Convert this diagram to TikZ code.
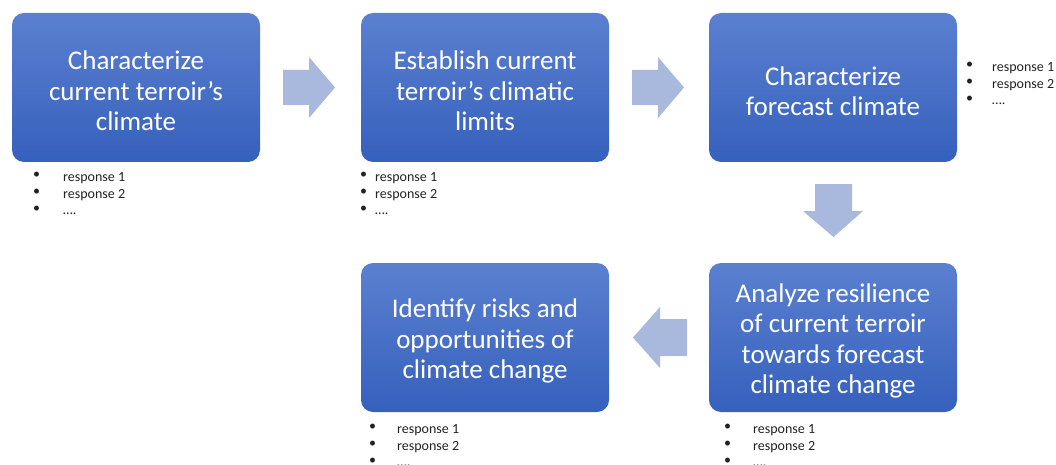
\documentclass[tikz,border=0pt]{standalone}
\usepackage{fontspec}
\setmainfont{Carlito}
\definecolor{boxtop}{HTML}{5B80D0}
\definecolor{boxbot}{HTML}{3560BC}
\definecolor{arrowc}{HTML}{A9B9DE}
\definecolor{listc}{HTML}{222222}
\tikzset{
  stepbox/.style={rounded corners=12pt, top color=boxtop, bottom color=boxbot, draw=none,
    minimum width=248pt, minimum height=149pt, inner sep=0pt},
  steptext/.style={inner sep=0pt, text=white, align=center, font=\fontsize{27}{30.5}\selectfont},
  blockarrow/.style={fill=arrowc, draw=none},
  resp/.style={anchor=north west, inner sep=0pt, text=listc, font=\fontsize{14}{16.8}\selectfont, align=left},
  bul/.style={anchor=north west, inner sep=0pt, text=listc, font=\fontsize{14}{16.8}\selectfont, align=left}
}
\begin{document}
\begin{tikzpicture}[x=1pt,y=-1pt]
\useasboundingbox (0,0) rectangle (1056,465);
\node[stepbox] (b1) at (136,87.5) {};
\node[stepbox] (b2) at (485,87.5) {};
\node[stepbox] (b3) at (833,87.5) {};
\node[stepbox] (b4) at (833,337.5) {};
\node[stepbox] (b5) at (485,337.5) {};
\node[steptext] (t1) at ([yshift=-3.5pt]b1.center) {Characterize\\current terroir’s\\climate};
\node[steptext] (t2) at ([yshift=-3.5pt]b2.center) {Establish current\\terroir’s climatic\\limits};
\node[steptext] (t3) at ([yshift=-3.5pt]b3.center) {Characterize\\forecast climate};
\node[steptext] (t4) at ([yshift=-3.5pt]b4.center) {Analyze resilience\\of current terroir\\towards forecast\\climate change};
\node[steptext] (t5) at ([yshift=-3.5pt]b5.center) {Identify risks and\\opportunities of\\climate change};
% block arrows
\fill[blockarrow] (283,70) -- (309,70) -- (309,57) -- (335,87.5) -- (309,118) -- (309,105) -- (283,105) -- cycle;
\fill[blockarrow] (632,70) -- (658,70) -- (658,57) -- (684,87.5) -- (658,118) -- (658,105) -- (632,105) -- cycle;
\fill[blockarrow] (815,184) -- (852,184) -- (852,211) -- (863,211) -- (833.5,237) -- (803,211) -- (815,211) -- cycle;
\fill[blockarrow] (687,319) -- (660,319) -- (660,307) -- (633,337.5) -- (660,368) -- (660,356) -- (687,356) -- cycle;
% lists
\node[bul] (l1b) at (33,172) {•\\•\\•};
\node[resp] (l1) at (63,172) {response 1\\response 2\\….};
\node[bul] (l2b) at (360,172) {•\\•\\•};
\node[resp] (l2) at (375,172) {response 1\\response 2\\….};
\node[bul] (l3b) at (966,62) {•\\•\\•};
\node[resp] (l3) at (992,62) {response 1\\response 2\\….};
\node[bul] (l5b) at (369,424) {•\\•\\•};
\node[resp] (l5) at (397,424) {response 1\\response 2\\….};
\node[bul] (l4b) at (724,424) {•\\•\\•};
\node[resp] (l4) at (753,424) {response 1\\response 2\\….};
\end{tikzpicture}
\end{document}
